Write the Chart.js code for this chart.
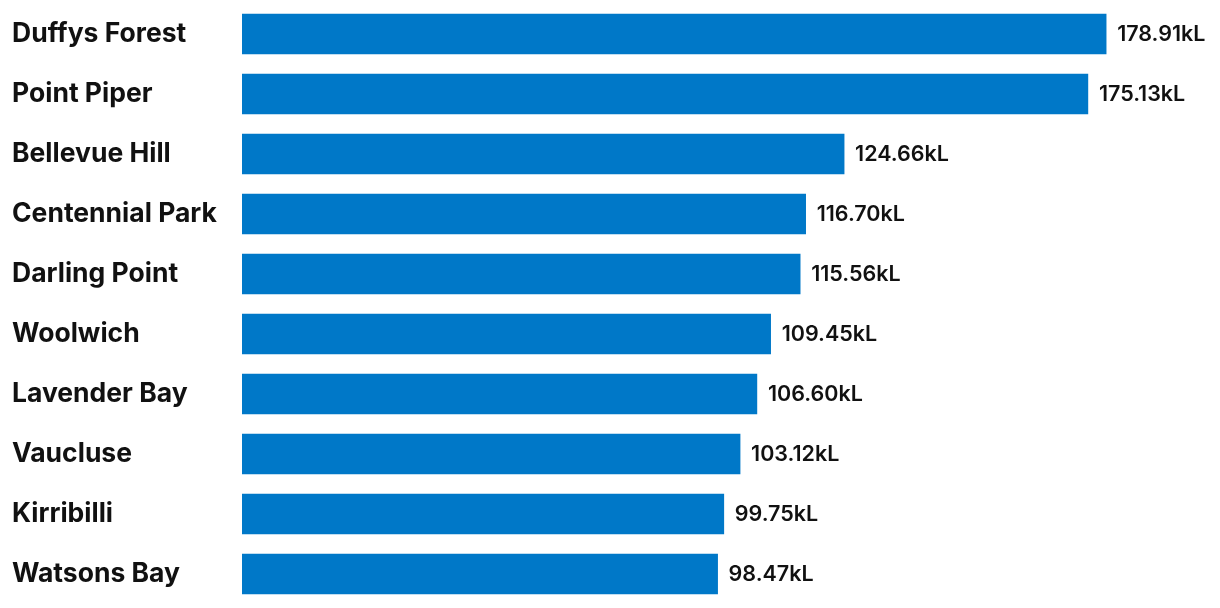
<!DOCTYPE html>
<html>
<head>
<meta charset="utf-8">
<script src="https://cdn.jsdelivr.net/npm/chart.js@4/dist/chart.umd.min.js"></script>
<style>
  html, body { margin:0; padding:0; background:#fff; }
  #wrap { width:1220px; height:608px; }
</style>
</head>
<body>
<div id="wrap"><canvas id="waterChart" width="1220" height="608"></canvas></div>
<script>
const suburbs = ['Duffys Forest','Point Piper','Bellevue Hill','Centennial Park','Darling Point',
                 'Woolwich','Lavender Bay','Vaucluse','Kirribilli','Watsons Bay'];
const usageKL = [178.91, 175.13, 124.66, 116.70, 115.56, 109.45, 106.60, 103.12, 99.75, 98.47];
const valueLabels = ['178.91kL','175.13kL','124.66kL','116.70kL','115.56kL',
                     '109.45kL','106.60kL','103.12kL','99.75kL','98.47kL'];

const FONT = 'Inter, Roboto, sans-serif';

// value text at the end of each bar
const endLabels = {
  id: 'endLabels',
  afterDatasetsDraw(chart) {
    const c = chart.ctx;
    const meta = chart.getDatasetMeta(0);
    c.save();
    c.font = `600 21.5px ${FONT}`;
    c.fillStyle = '#111';
    c.textBaseline = 'middle';
    c.textAlign = 'left';
    meta.data.forEach((bar, i) => {
      c.fillText(valueLabels[i], bar.x + 11, bar.y + 1);
    });
    c.restore();
  }
};

new Chart(document.getElementById('waterChart'), {
  type: 'bar',
  data: {
    labels: suburbs,
    datasets: [{ data: usageKL, backgroundColor: '#0078c8', barThickness: 40, borderWidth: 0 }]
  },
  options: {
    responsive: false,
    animation: false,
    indexAxis: 'y',
    layout: { padding: { left: 12, right: 12, top: 4, bottom: 4 } },
    plugins: { legend: { display:false }, tooltip: { enabled:false } },
    scales: {
      x: { display:false, min:0, max:200 },
      y: {
        grid: { display:false },
        border: { display:false },
        ticks: {
          crossAlign: 'far',
          color: '#111',
          font: { family: FONT, size: 26.5, weight: '700' },
          padding: 0
        },
        afterFit: s => { s.width = 230; s.paddingTop = 0; s.paddingBottom = 0; }
      }
    }
  },
  plugins: [endLabels]
});
</script>
</body>
</html>
